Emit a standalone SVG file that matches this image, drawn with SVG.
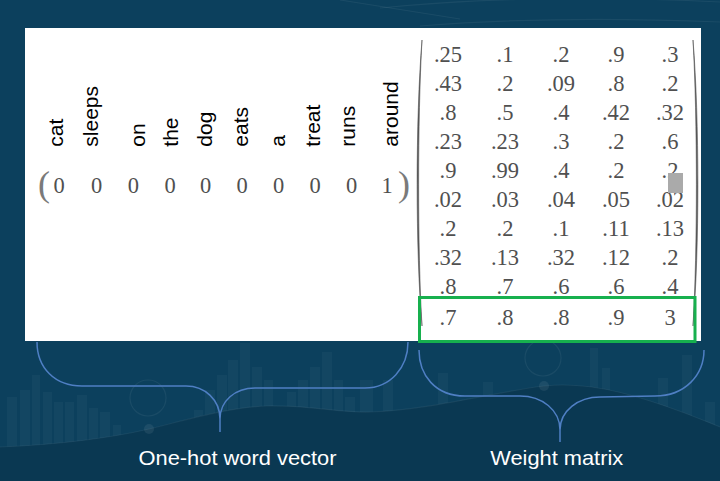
<svg xmlns="http://www.w3.org/2000/svg" width="720" height="481" viewBox="0 0 720 481">
<defs>
<style>
.bg{fill:#0c405d}
.bar{fill:#ffffff;fill-opacity:0.03}
.deco{fill:none;stroke:#ffffff;stroke-opacity:0.06;stroke-width:1.2}
.word{font-family:"Liberation Sans",Arial,sans-serif;font-size:21px;fill:#000}
.num{font-family:"Liberation Serif","Times New Roman",serif;font-size:22.5px;fill:#505050;text-anchor:middle}
.par{font-family:"Liberation Serif","Times New Roman",serif;font-size:36px;fill:#7a7a7a;text-anchor:middle}
.brace{fill:none;stroke:#4f7fc4;stroke-width:1.5}
.label{font-family:"Liberation Sans",Arial,sans-serif;font-size:21px;fill:#ffffff;text-anchor:middle}
</style>
</defs>

<g id="background">
<rect class="bg" x="0" y="0" width="720" height="481"/>
<path class="deco" d="M340,0 C390,8 430,14 460,19"/>
<path class="deco" d="M380,8 C480,-2 600,-4 720,2"/>
<path class="deco" d="M420,26 C520,18 620,18 720,22"/>
<g>
<rect class="bar" x="7" y="397" width="10" height="84"/>
<rect class="bar" x="20" y="390" width="10" height="91"/>
<rect class="bar" x="32" y="375" width="8" height="106"/>
<rect class="bar" x="43" y="392" width="9" height="89"/>
<rect class="bar" x="54" y="402" width="9" height="79"/>
<rect class="bar" x="65" y="402" width="9" height="79"/>
<rect class="bar" x="77" y="395" width="10" height="86"/>
<rect class="bar" x="89" y="408" width="9" height="73"/>
<rect class="bar" x="100" y="412" width="10" height="69"/>
<rect class="bar" x="113" y="425" width="8" height="56"/>
<rect class="bar" x="194" y="410" width="9" height="71"/>
<rect class="bar" x="205" y="390" width="10" height="91"/>
<rect class="bar" x="217" y="375" width="10" height="106"/>
<rect class="bar" x="228" y="360" width="10" height="121"/>
<rect class="bar" x="240" y="343" width="10" height="138"/>
<rect class="bar" x="252" y="367" width="10" height="114"/>
<rect class="bar" x="264" y="380" width="9" height="101"/>
<rect class="bar" x="287" y="392" width="9" height="89"/>
<rect class="bar" x="298" y="380" width="10" height="101"/>
<rect class="bar" x="310" y="367" width="10" height="114"/>
<rect class="bar" x="322" y="352" width="10" height="129"/>
<rect class="bar" x="334" y="380" width="9" height="101"/>
<rect class="bar" x="345" y="397" width="10" height="84"/>
<rect class="bar" x="360" y="380" width="13" height="101"/>
<rect class="bar" x="383" y="380" width="10" height="101"/>
<rect class="bar" x="415" y="408" width="10" height="73"/>
<rect class="bar" x="438" y="373" width="10" height="108"/>
<rect class="bar" x="460" y="400" width="10" height="81"/>
<rect class="bar" x="483" y="382" width="10" height="99"/>
<rect class="bar" x="497" y="397" width="10" height="84"/>
<rect class="bar" x="590" y="348" width="8" height="133"/>
<rect class="bar" x="602" y="368" width="8" height="113"/>
<rect class="bar" x="658" y="378" width="10" height="103"/>
<rect class="bar" x="682" y="355" width="10" height="126"/>
<rect class="bar" x="705" y="402" width="10" height="79"/>
</g>
<circle class="deco" cx="148" cy="398" r="18"/>
<circle class="deco" cx="543" cy="358" r="18"/>
<path d="M0,447 C60,445 115,437 149,429 C190,419 230,407 267,406 C310,405 340,413 370,412 C430,410 500,391 544,386 C590,381 640,394 720,427 L720,481 L0,481 Z" fill="#0a3852"/>
<path class="deco" d="M0,447 C60,445 115,437 149,429 C190,419 230,407 267,406 C310,405 340,413 370,412 C430,410 500,391 544,386 C590,381 640,394 720,427"/>
<circle cx="149" cy="429" r="5" fill="#ffffff" fill-opacity="0.07"/>
<circle cx="544" cy="386" r="5" fill="#ffffff" fill-opacity="0.07"/>
</g>

<rect id="panel" x="25" y="28" width="676" height="313" fill="#ffffff"/>

<g id="word-vector">
<text class="word" transform="translate(63.3,146.7) rotate(-90)">cat</text>
<text class="word" transform="translate(98.3,146.7) rotate(-90)">sleeps</text>
<text class="word" transform="translate(145,146.7) rotate(-90)">on</text>
<text class="word" transform="translate(178.3,146.7) rotate(-90)">the</text>
<text class="word" transform="translate(211.7,146.7) rotate(-90)">dog</text>
<text class="word" transform="translate(248.3,146.7) rotate(-90)">eats</text>
<text class="word" transform="translate(285,146.7) rotate(-90)">a</text>
<text class="word" transform="translate(320,146.7) rotate(-90)">treat</text>
<text class="word" transform="translate(355,146.7) rotate(-90)">runs</text>
<text class="word" transform="translate(398.3,146.7) rotate(-90)">around</text>
<text class="par" x="44" y="195.5">(</text>
<text class="par" x="404" y="195.5">)</text>
<text class="num" x="59" y="193.3">0</text>
<text class="num" x="96.5" y="193.3">0</text>
<text class="num" x="133.3" y="193.3">0</text>
<text class="num" x="170" y="193.3">0</text>
<text class="num" x="205.5" y="193.3">0</text>
<text class="num" x="242" y="193.3">0</text>
<text class="num" x="278.5" y="193.3">0</text>
<text class="num" x="315" y="193.3">0</text>
<text class="num" x="351.7" y="193.3">0</text>
<text class="num" x="387" y="193.3">1</text>
</g>

<g id="weight-matrix">
<path d="M422,40 C415.5,120 415.5,250 422,326 C417.5,250 417.5,120 422,40 Z" fill="#555" stroke="#555" stroke-width="0.6"/>
<path d="M693,40 C699.5,120 699.5,250 693,326 C697.5,250 697.5,120 693,40 Z" fill="#555" stroke="#555" stroke-width="0.6"/>
<g>
<text class="num" x="448" y="62">.25</text><text class="num" x="505" y="62">.1</text><text class="num" x="561" y="62">.2</text><text class="num" x="616" y="62">.9</text><text class="num" x="670" y="62">.3</text>
<text class="num" x="448" y="91">.43</text><text class="num" x="505" y="91">.2</text><text class="num" x="561" y="91">.09</text><text class="num" x="616" y="91">.8</text><text class="num" x="670" y="91">.2</text>
<text class="num" x="448" y="119.9">.8</text><text class="num" x="505" y="119.9">.5</text><text class="num" x="561" y="119.9">.4</text><text class="num" x="616" y="119.9">.42</text><text class="num" x="670" y="119.9">.32</text>
<text class="num" x="448" y="148.9">.23</text><text class="num" x="505" y="148.9">.23</text><text class="num" x="561" y="148.9">.3</text><text class="num" x="616" y="148.9">.2</text><text class="num" x="670" y="148.9">.6</text>
<text class="num" x="448" y="177.8">.9</text><text class="num" x="505" y="177.8">.99</text><text class="num" x="561" y="177.8">.4</text><text class="num" x="616" y="177.8">.2</text><text class="num" x="670" y="177.8">.2</text>
<text class="num" x="448" y="206.8">.02</text><text class="num" x="505" y="206.8">.03</text><text class="num" x="561" y="206.8">.04</text><text class="num" x="616" y="206.8">.05</text><text class="num" x="670" y="206.8">.02</text>
<text class="num" x="448" y="235.7">.2</text><text class="num" x="505" y="235.7">.2</text><text class="num" x="561" y="235.7">.1</text><text class="num" x="616" y="235.7">.11</text><text class="num" x="670" y="235.7">.13</text>
<text class="num" x="448" y="264.7">.32</text><text class="num" x="505" y="264.7">.13</text><text class="num" x="561" y="264.7">.32</text><text class="num" x="616" y="264.7">.12</text><text class="num" x="670" y="264.7">.2</text>
<text class="num" x="448" y="293.6">.8</text><text class="num" x="505" y="293.6">.7</text><text class="num" x="561" y="293.6">.6</text><text class="num" x="616" y="293.6">.6</text><text class="num" x="670" y="293.6">.4</text>
<text class="num" x="448" y="325">.7</text><text class="num" x="505" y="325">.8</text><text class="num" x="561" y="325">.8</text><text class="num" x="616" y="325">.9</text><text class="num" x="670" y="325">3</text>
</g>
<rect x="668" y="173" width="15" height="20" fill="#aaaaaa"/>
<rect id="highlight" x="419.5" y="297.5" width="275.5" height="44" fill="none" stroke="#17b04e" stroke-width="3"/>
</g>

<g id="connectors">
<path class="brace" d="M37,342 C37,368 55,386 82,386 L186,386 C205,386 220,400 220,419 L220,432 M220,419 C220,401 235,388 255,388 L365,388 C390,388 408,368 408,342"/>
<path class="brace" d="M419,350 C419,375 435,396 465,396 L520,396 C542,396 560,410 560,430 L560,442 M560,430 C560,411 578,397 600,397 L655,396 C685,396 704,375 704,350"/>
</g>

<g id="label-vector">
<text class="label" x="237.5" y="464.5" textLength="198" lengthAdjust="spacingAndGlyphs">One-hot word vector</text>
</g>
<g id="label-matrix">
<text class="label" x="556.7" y="464.5" textLength="133" lengthAdjust="spacingAndGlyphs">Weight matrix</text>
</g>
</svg>
